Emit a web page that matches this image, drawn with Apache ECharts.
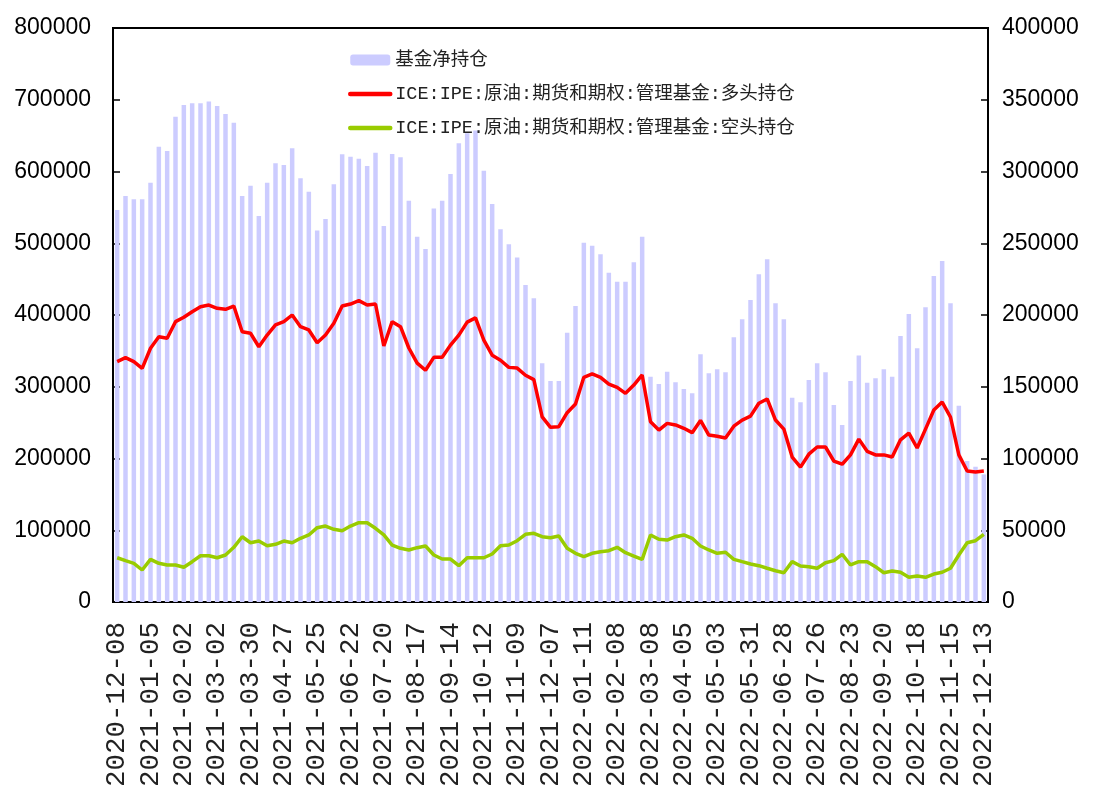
<!DOCTYPE html>
<html>
<head>
<meta charset="utf-8">
<script src="https://cdn.jsdelivr.net/npm/echarts@6/dist/echarts.min.js"></script>
<style>
  html, body { margin: 0; padding: 0; background: #fff; }
  #chart { width: 1094px; height: 795px; }
</style>
</head>
<body>
<div id="chart"></div>
<script>
// 周度日期（2021-12-28 缺失）
const dates = [
  "2020-12-08", "2020-12-15", "2020-12-22", "2020-12-29",
  "2021-01-05", "2021-01-12", "2021-01-19", "2021-01-26",
  "2021-02-02", "2021-02-09", "2021-02-16", "2021-02-23",
  "2021-03-02", "2021-03-09", "2021-03-16", "2021-03-23",
  "2021-03-30", "2021-04-06", "2021-04-13", "2021-04-20",
  "2021-04-27", "2021-05-04", "2021-05-11", "2021-05-18",
  "2021-05-25", "2021-06-01", "2021-06-08", "2021-06-15",
  "2021-06-22", "2021-06-29", "2021-07-06", "2021-07-13",
  "2021-07-20", "2021-07-27", "2021-08-03", "2021-08-10",
  "2021-08-17", "2021-08-24", "2021-08-31", "2021-09-07",
  "2021-09-14", "2021-09-21", "2021-09-28", "2021-10-05",
  "2021-10-12", "2021-10-19", "2021-10-26", "2021-11-02",
  "2021-11-09", "2021-11-16", "2021-11-23", "2021-11-30",
  "2021-12-07", "2021-12-14", "2021-12-21", "2022-01-04",
  "2022-01-11", "2022-01-18", "2022-01-25", "2022-02-01",
  "2022-02-08", "2022-02-15", "2022-02-22", "2022-03-01",
  "2022-03-08", "2022-03-15", "2022-03-22", "2022-03-29",
  "2022-04-05", "2022-04-12", "2022-04-19", "2022-04-26",
  "2022-05-03", "2022-05-10", "2022-05-17", "2022-05-24",
  "2022-05-31", "2022-06-07", "2022-06-14", "2022-06-21",
  "2022-06-28", "2022-07-05", "2022-07-12", "2022-07-19",
  "2022-07-26", "2022-08-02", "2022-08-09", "2022-08-16",
  "2022-08-23", "2022-08-30", "2022-09-06", "2022-09-13",
  "2022-09-20", "2022-09-27", "2022-10-04", "2022-10-11",
  "2022-10-18", "2022-10-25", "2022-11-01", "2022-11-08",
  "2022-11-15", "2022-11-22", "2022-11-29", "2022-12-06",
  "2022-12-13"
];

// 基金净持仓（右轴）
const netPos = [
  273200, 282900, 280600, 280600, 292200, 317300, 314300, 338200, 346400, 347500,
  347500, 348700, 345700, 340100, 334000, 282900, 290100, 269000, 292200, 305700,
  304500, 316200, 295300, 285900, 258800, 266900, 291100, 312000, 310300, 308900,
  303800, 313100, 262000, 312200, 309900, 279700, 254600, 246000, 274300, 279700,
  298300, 319600, 326600, 328500, 300600, 277400, 259700, 249300, 240000, 220900,
  211600, 166300, 154000, 154000, 187700, 206300, 250400, 248300, 242300, 229500,
  223200, 223200, 236700, 254600, 157000, 151900, 160500, 153100, 148400, 145400,
  172600, 159400, 162200, 160100, 184500, 197000, 210500, 228400, 238800, 208200,
  197000, 142400, 139200, 154700, 166300, 160100, 137300, 123400, 154000, 171700,
  152800, 155900, 162200, 157000, 185400, 200700, 176800, 205400, 227200, 237600,
  208200, 136800, 98300, 94300, 88900
];

// 多头持仓（左轴）
const longPos = [
  335000, 340500, 335000, 325700, 353600, 369700, 367500, 390700, 396800, 404600,
  411600, 413900, 409300, 408000, 412500, 376700, 374500, 355800, 372100, 386100,
  390700, 400000, 383700, 379100, 361400, 372100, 388400, 412500, 415300, 420000,
  413900, 415300, 356800, 390700, 383700, 354000, 333000, 323000, 341000, 341000,
  358000, 372000, 390000, 396000, 365000, 344000, 337000, 327000, 326000, 316000,
  310000, 258000, 243500, 244300, 263800, 276000, 313200, 317800, 313200, 303800,
  299200, 290800, 302400, 316400, 251300, 239700, 249000, 246700, 242100, 236000,
  253000, 232700, 231000, 228500, 245000, 253600, 259000, 277000, 283000, 253600,
  241000, 202000, 188000, 206000, 216000, 216000, 196500, 192000, 205000, 227000,
  210000, 205000, 205000, 202000, 226000, 235500, 214600, 241000, 267600, 278700,
  257800, 205000, 182600, 181200, 182600
];

// 空头持仓（左轴）
const shortPos = [
  61700, 57600, 53900, 44600, 59500, 53900, 51600, 51600, 48400, 56200,
  64500, 64500, 61700, 65500, 76200, 91000, 82600, 85000, 78500, 80400,
  85000, 82600, 88800, 93400, 103600, 105900, 101300, 99400, 105900, 110500,
  110500, 102700, 93400, 79400, 74800, 72500, 75700, 78000, 65500, 59900,
  59900, 50600, 61700, 61700, 61700, 66900, 78500, 79400, 85400, 94300,
  95700, 91000, 89600, 92000, 74800, 67900, 63100, 67900, 70100, 71500,
  76200, 68700, 64100, 59500, 93400, 87400, 86400, 91000, 93400, 88800,
  78000, 72500, 67900, 69300, 59500, 56200, 53000, 50600, 47000, 43600,
  40800, 56200, 50200, 49200, 47000, 54800, 57600, 66500, 51600, 56200,
  56200, 49200, 40800, 43200, 41400, 34400, 36200, 34400, 39000, 41400,
  47000, 65500, 82600, 85400, 94300
];

const seriesNames = [
  "基金净持仓",
  "ICE:IPE:原油:期货和期权:管理基金:多头持仓",
  "ICE:IPE:原油:期货和期权:管理基金:空头持仓"
];

const chart = echarts.init(document.getElementById("chart"));

const yLabel = {
  color: "#000",
  fontFamily: "Liberation Sans, Arial, sans-serif",
  fontSize: 23,
  formatter: (v) => String(v) // 不要千分位
};

chart.setOption({
  animation: false,
  grid: {
    left: 113,
    right: 106,
    top: 28,
    bottom: 193,
    show: true,
    borderColor: "#000",
    borderWidth: 2
  },
  legend: {
    orient: "vertical",
    left: 343,
    top: 45,
    itemWidth: 40,
    itemHeight: 11,
    itemGap: 14,
    data: [
      { name: seriesNames[0] },
      // 图例里只画线，不画圆点
      { name: seriesNames[1], itemStyle: { opacity: 0 }, lineStyle: { width: 4.5, cap: "round" } },
      { name: seriesNames[2], itemStyle: { opacity: 0 }, lineStyle: { width: 4.5, cap: "round" } }
    ],
    textStyle: {
      color: "#222",
      fontSize: 18.5,
      lineHeight: 20,
      fontFamily: "'Liberation Mono', 'Noto Sans CJK SC', monospace"
    }
  },
  xAxis: {
    type: "category",
    data: dates,
    boundaryGap: true,
    axisLine: { lineStyle: { color: "#000", width: 2 } },
    axisTick: { show: false },
    axisLabel: {
      interval: 3,
      rotate: 90,
      margin: 20,
      color: "#222",
      fontFamily: "'Liberation Mono', monospace",
      fontSize: 27.5
    }
  },
  yAxis: [
    {
      type: "value",
      min: 0,
      max: 800000,
      interval: 100000,
      axisLine: { show: true, lineStyle: { color: "#000", width: 2 } },
      axisTick: { show: true, inside: true, length: 7, lineStyle: { color: "#000", width: 1.5 } },
      splitLine: { show: false },
      axisLabel: Object.assign({ margin: 22 }, yLabel)
    },
    {
      type: "value",
      min: 0,
      max: 400000,
      interval: 50000,
      position: "right",
      axisLine: { show: true, lineStyle: { color: "#000", width: 2 } },
      axisTick: { show: true, inside: true, length: 7, lineStyle: { color: "#000", width: 1.5 } },
      splitLine: { show: false },
      axisLabel: Object.assign({ margin: 14 }, yLabel)
    }
  ],
  series: [
    {
      name: seriesNames[0],
      type: "bar",
      yAxisIndex: 1,
      data: netPos,
      barWidth: 4.5,
      itemStyle: { color: "#ccccff" }
    },
    {
      name: seriesNames[1],
      type: "line",
      yAxisIndex: 0,
      data: longPos,
      symbol: "none",
      lineStyle: { color: "#ff0000", width: 3.5 },
      itemStyle: { color: "#ff0000" }
    },
    {
      name: seriesNames[2],
      type: "line",
      yAxisIndex: 0,
      data: shortPos,
      symbol: "none",
      lineStyle: { color: "#99cc00", width: 3.5 },
      itemStyle: { color: "#99cc00" }
    }
  ]
});
</script>
</body>
</html>
